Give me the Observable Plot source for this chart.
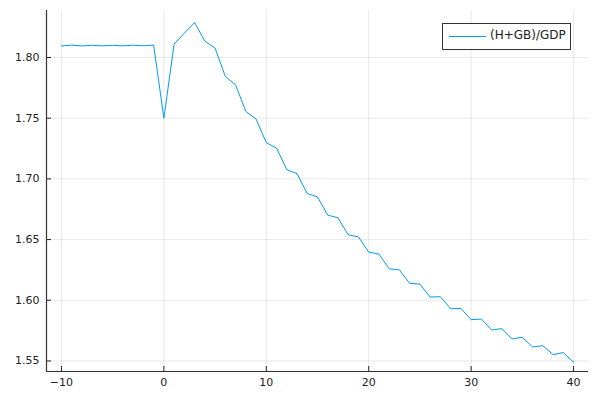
<!DOCTYPE html>
<html>
<head>
<meta charset="utf-8">
<script src="https://cdn.jsdelivr.net/npm/d3@7"></script>
<script src="https://cdn.jsdelivr.net/npm/@observablehq/plot@0.6"></script>
<style>
  html, body { margin: 0; padding: 0; background: #fff; }
  #wrap { position: relative; width: 600px; height: 400px; }
  #legend {
    position: absolute; left: 442px; top: 23px; width: 127px; height: 25px;
    border: 1px solid #333; background: #fff; box-sizing: content-box;
    font-family: "DejaVu Sans", sans-serif; font-size: 12px; color: #222;
  }
  #legend .sw { position: absolute; left: 6px; top: 12px; width: 37px; height: 0; border-top: 1px solid #009AFA; }
  #legend .lb { position: absolute; left: 47px; top: 4px; white-space: nowrap; }
</style>
</head>
<body>
<div id="wrap">
  <div id="chart"></div>
  <div id="legend"><div class="sw"></div><div class="lb"></div></div>
</div>
<script>
const seriesName = "(H+GB)/GDP";
const periods = [-10,-9,-8,-7,-6,-5,-4,-3,-2,-1,0,1,2,3,4,5,6,7,8,9,10,11,12,13,14,15,16,17,18,19,20,21,22,23,24,25,26,27,28,29,30,31,32,33,34,35,36,37,38,39,40];
const ratio = [1.8095,1.8102,1.8095,1.8100,1.8096,1.8100,1.8096,1.8101,1.8096,1.8102,
  1.7500,1.8110,1.8200,1.8288,1.8134,1.8077,1.7844,1.7775,1.7556,1.7493,
  1.7298,1.7254,1.7076,1.7043,1.6879,1.6851,1.6701,1.6679,1.6539,1.6522,
  1.6396,1.6380,1.6259,1.6250,1.6139,1.6133,1.6026,1.6029,1.5930,1.5933,
  1.5840,1.5845,1.5755,1.5766,1.5681,1.5695,1.5615,1.5626,1.5552,1.5569,1.5490];
const xTicks = [-10, 0, 10, 20, 30, 40];
const yTicks = [1.55, 1.60, 1.65, 1.70, 1.75, 1.80];

const data = periods.map((p, i) => ({x: p, y: ratio[i]}));

const chart = Plot.plot({
  width: 600,
  height: 400,
  marginLeft: 46,
  marginRight: 12,
  marginTop: 10,
  marginBottom: 29,
  style: {fontFamily: "DejaVu Sans, sans-serif", fontSize: "11px", color: "#222", background: "#fff"},
  x: {domain: [-11.46, 41.46]},
  y: {domain: [1.5413, 1.8387]},
  marks: [
    Plot.gridX(xTicks, {stroke: "#000", strokeOpacity: 0.09}),
    Plot.gridY(yTicks, {stroke: "#000", strokeOpacity: 0.09}),
    Plot.axisX(xTicks, {tickSize: -5, tickPadding: 12, tickFormat: d => d < 0 ? "\u2212" + Math.abs(d) : String(d), label: null, stroke: "#222", fill: "#222"}),
    Plot.axisY(yTicks, {tickSize: -5, tickPadding: 12, tickFormat: d3.format(".2f"), label: null, stroke: "#222", fill: "#222"}),
    Plot.ruleX([-11.46], {stroke: "#333", strokeWidth: 1.2}),
    Plot.ruleY([1.5413], {stroke: "#333", strokeWidth: 1.2}),
    Plot.line(data, {x: "x", y: "y", stroke: "#009AFA", strokeWidth: 1})
  ]
});
document.getElementById("chart").appendChild(chart);
document.querySelector("#legend .lb").textContent = seriesName;
</script>
</body>
</html>
